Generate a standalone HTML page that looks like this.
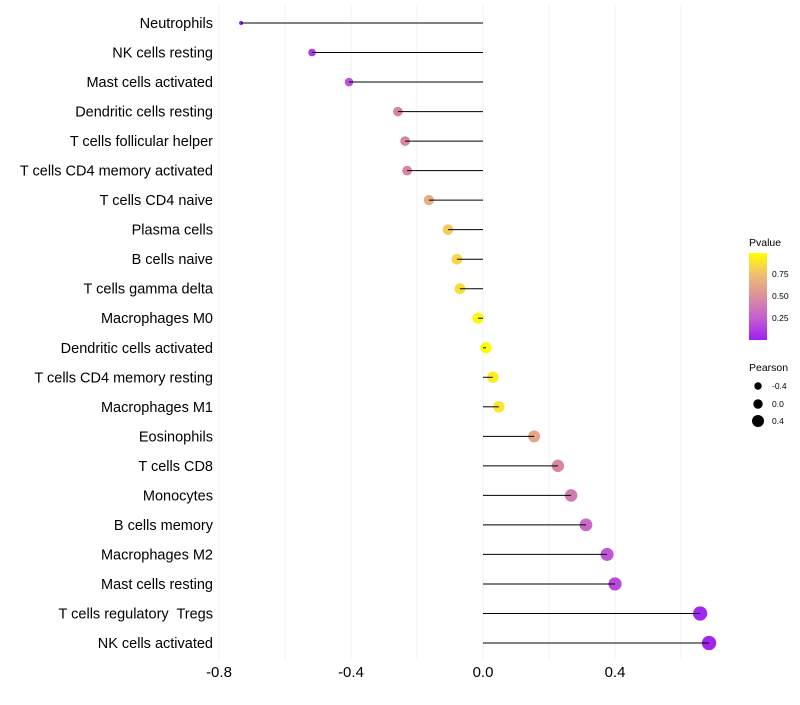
<!DOCTYPE html>
<html><head><meta charset="utf-8"><style>
body{margin:0;background:#fff;font-family:"Liberation Sans",sans-serif;}
text{white-space:pre;}
</style></head><body>
<svg id="chart" width="800" height="700" xmlns="http://www.w3.org/2000/svg" font-family="Liberation Sans, sans-serif">
<defs><linearGradient id="pg" x1="0" y1="1" x2="0" y2="0">
<stop offset="0" stop-color="#9f1ff2"/><stop offset="0.25" stop-color="#c45ed0"/><stop offset="0.5" stop-color="#dc8f9b"/><stop offset="0.75" stop-color="#f0bd72"/><stop offset="1" stop-color="#ffff00"/>
</linearGradient></defs>
<g id="grid"></g><g id="marks"></g><g id="labels"></g><g id="ticks"></g>
<g>
<text x="749" y="246" font-size="10.5" fill="#000">Pvalue</text>
<rect x="749" y="253" width="18" height="87" fill="url(#pg)"/>
<text x="772" y="277" font-size="8.5">0.75</text>
<text x="772" y="299" font-size="8.5">0.50</text>
<text x="772" y="321" font-size="8.5">0.25</text>
</g>
<g>
<text x="749" y="371" font-size="10.5">Pearson</text>
<circle cx="758" cy="386" r="3.7" fill="#000"/><text x="772" y="389" font-size="8.5">-0.4</text>
<circle cx="758" cy="404" r="4.7" fill="#000"/><text x="772" y="407" font-size="8.5">0.0</text>
<circle cx="758" cy="421" r="6" fill="#000"/><text x="772" y="424" font-size="8.5">0.4</text>
</g>
</svg>
<script>
const categories=["Neutrophils","NK cells resting","Mast cells activated","Dendritic cells resting","T cells follicular helper","T cells CD4 memory activated","T cells CD4 naive","Plasma cells","B cells naive","T cells gamma delta","Macrophages M0","Dendritic cells activated","T cells CD4 memory resting","Macrophages M1","Eosinophils","T cells CD8","Monocytes","B cells memory","Macrophages M2","Mast cells resting","T cells regulatory  Tregs","NK cells activated"];
const pearson=[-0.733,-0.518,-0.406,-0.258,-0.236,-0.230,-0.164,-0.106,-0.079,-0.070,-0.015,0.009,0.030,0.048,0.155,0.227,0.267,0.312,0.376,0.400,0.658,0.685];
const pvalue=[0.01,0.1,0.2,0.45,0.45,0.45,0.65,0.8,0.85,0.87,0.97,0.99,0.93,0.9,0.62,0.45,0.4,0.3,0.22,0.17,0.03,0.02];
const xTicks=[-0.8,-0.4,0.0,0.4];
const xGrid=[-0.8,-0.6,-0.4,-0.2,0,0.2,0.4,0.6];
const NS="http://www.w3.org/2000/svg";
const x=v=>483+v*330;
const y=i=>23+i*(620/21);
const stops=[[0,[159,31,242]],[0.25,[196,94,208]],[0.5,[220,143,155]],[0.75,[240,189,114]],[1,[255,255,0]]];
function col(p){for(let k=1;k<stops.length;k++){if(p<=stops[k][0]){const a=stops[k-1],b=stops[k],t=(p-a[0])/(b[0]-a[0]);return "rgb("+a[1].map((c,j)=>Math.round(c+(b[1][j]-c)*t)).join(",")+")";}}return "rgb(255,255,0)";}
const rad=v=>1.5+5.7*Math.sqrt(Math.max(0,(v+0.75)/1.45));
function mk(t,a,parent){const e=document.createElementNS(NS,t);for(const k in a)e.setAttribute(k,a[k]);document.getElementById(parent).appendChild(e);return e;}
xGrid.forEach(g=>{const l=mk("line",{x1:x(g),x2:x(g),y1:5,y2:660,stroke:"#f0f0f0","stroke-width":1},"grid");

});
categories.forEach((c,i)=>{
const d=mk("circle",{cx:x(pearson[i]),cy:y(i),r:rad(pearson[i]),fill:col(pvalue[i])},"marks");


const s=mk("line",{x1:x(0),x2:x(pearson[i]),y1:y(i),y2:y(i),stroke:"#000","stroke-width":1},"marks");


const t=mk("text",{x:213,y:y(i)+5,"text-anchor":"end","font-size":"14.5",fill:"#000"},"labels");
t.textContent=c;


});
xTicks.forEach(v=>{const t=mk("text",{x:x(v),y:677,"text-anchor":"middle","font-size":"15",fill:"#000"},"ticks");
t.textContent=v.toFixed(1);

});
</script>
</body></html>
